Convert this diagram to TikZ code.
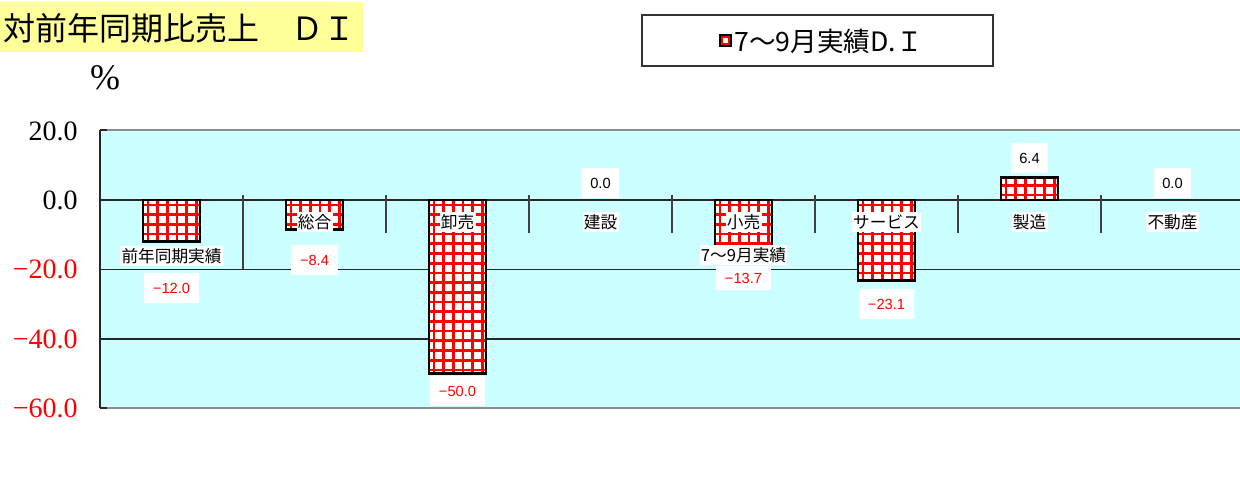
\documentclass[tikz,border=0pt]{standalone}
\usepackage{fontspec}
\setmainfont{Liberation Serif}
\setsansfont{Liberation Sans}
\newfontfamily\jp{Noto Sans CJK JP}
\definecolor{plotbg}{HTML}{CCFFFF}
\definecolor{titlebg}{HTML}{FFFF99}
\definecolor{barred}{HTML}{FF0000}
\newcommand\drawbar[2]{%
  \pgfmathsetmacro\yv{200-(#2)*3.475}%
  \begin{scope}
    \clip (#1-28.5,200) rectangle (#1+28.5,\yv);
    \fill[white] (#1-28.5,200) rectangle (#1+28.5,\yv);
    \foreach \i in {0,...,6} \draw[barred, line width=2pt] (#1-28.5+5+\i*9.7,100) -- (#1-28.5+5+\i*9.7,420);
    \foreach \j in {0,...,19} {
      \draw[barred, line width=2pt] (#1-40,200+5+\j*9.7) -- (#1+40,200+5+\j*9.7);
      \draw[barred, line width=2pt] (#1-40,200-5-\j*9.7) -- (#1+40,200-5-\j*9.7);
    }
  \end{scope}
  \draw[line width=2.1pt] (#1-28.5,200) rectangle (#1+28.5,\yv);
}
\begin{document}
\begin{tikzpicture}[x=0.75pt,y=-0.75pt,
  catlabel/.style={font=\jp\fontsize{12.5}{13}\selectfont, fill=white, inner xsep=1pt, inner ysep=2pt},
  vallabel/.style={font=\sffamily\fontsize{11}{12}\selectfont, fill=white, inner xsep=6.5pt, inner ysep=7.5pt},
  neg/.style={vallabel, text=barred},
  axlabel/.style={font=\fontsize{21}{22}\selectfont, anchor=east, inner sep=0pt},
  gridline/.style={black!85, line width=0.9pt},
  cattick/.style={black!75, line width=0.9pt}]
\useasboundingbox (0,0) rectangle (1240,488);
\fill[white] (0,0) rectangle (1240,488);
% title
\fill[titlebg] (0,2) rectangle (363,52);
\node[anchor=west, font=\jp\fontsize{24}{25}\selectfont, inner sep=0pt] (title) at (3,28) {対前年同期比売上　ＤＩ};
\node[font=\fontsize{27}{27}\selectfont, inner sep=0pt] (pct) at (105,78) {\%};
% legend
\draw[black!80, line width=0.8pt] (642,15) rectangle (993,66);
\fill[barred] (720,35) rectangle (731,46);
\fill[white] (723,38) rectangle (728,43);
\draw[line width=1.4pt] (720,35) rectangle (731,46);
\node[anchor=west, font=\jp\fontsize{20}{21}\selectfont, inner sep=0pt] (legtext) at (734,41) {7～9月実績D.Ｉ};
% plot area
\fill[plotbg] (100,130) rectangle (1240,408);
\draw[gridline] (100,200) -- (1240,200);
\draw[gridline] (100,269.5) -- (1240,269.5);
\draw[gridline] (100,339) -- (1240,339);
\draw[black!45, line width=1.6pt] (100,130) -- (1240,130);
\draw[black!45, line width=1.6pt] (100,408) -- (1240,408);
\draw[black!85, line width=1.1pt] (100,130) -- (100,408);
\foreach \yy in {130,408} \draw[black!85, line width=1.1pt] (100,\yy) -- (107,\yy);
% axis labels
\node[axlabel] (a20) at (78,131) {20.0};
\node[axlabel] (a0) at (78,200) {0.0};
\node[axlabel, text=barred] (am20) at (78,269.5) {−20.0};
\node[axlabel, text=barred] (am40) at (78,339) {−40.0};
\node[axlabel, text=barred] (am60) at (78,408) {−60.0};
% category ticks
\draw[cattick] (243,195) -- (243,269);
\foreach \xx in {386,529,672,815,958,1101} \draw[cattick] (\xx,195) -- (\xx,233);
% bars
\drawbar{171.5}{-12.0}
\drawbar{314.5}{-8.4}
\drawbar{457.5}{-50.0}
\drawbar{743.5}{-13.7}
\drawbar{886.5}{-23.1}
\drawbar{1029.5}{6.4}
% labels
\node[catlabel] (c1) at (171.5,256) {前年同期実績};
\node[neg] (v1) at (171.5,288) {−12.0};
\node[catlabel] (c2) at (314.5,222) {総合};
\node[neg] (v2) at (314.5,260) {−8.4};
\node[catlabel] (c3) at (457.5,222) {卸売};
\node[neg] (v3) at (457.5,391) {−50.0};
\node[catlabel] (c4) at (600.5,222) {建設};
\node[vallabel] (v4) at (600.5,183) {0.0};
\node[catlabel] (c5) at (743.5,222) {小売};
\node[catlabel] (c5b) at (743.5,255) {7～9月実績};
\node[neg, inner ysep=5pt] (v5) at (743.5,278) {−13.7};
\node[catlabel] (c6) at (886.5,222) {サービス};
\node[neg] (v6) at (886.5,304) {−23.1};
\node[catlabel] (c7) at (1029.5,222) {製造};
\node[vallabel] (v7) at (1029.5,158) {6.4};
\node[catlabel] (c8) at (1172.5,222) {不動産};
\node[vallabel] (v8) at (1172.5,183) {0.0};
\end{tikzpicture}
\end{document}
